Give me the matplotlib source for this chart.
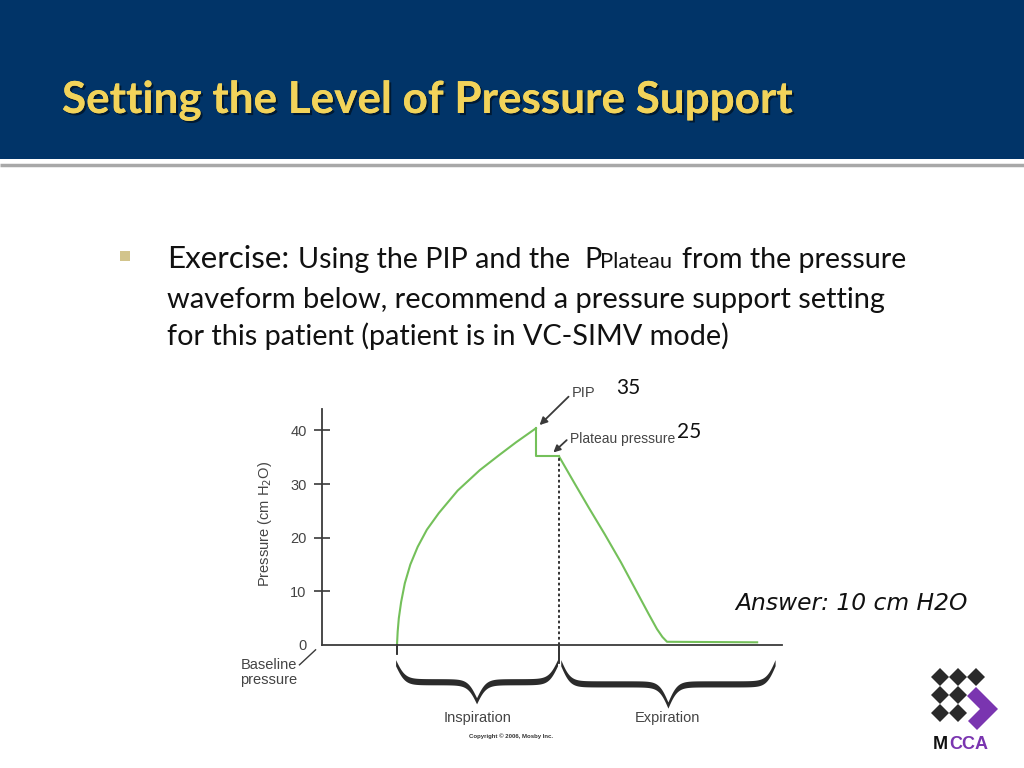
import numpy as np
import matplotlib
matplotlib.use('Agg')
import matplotlib.pyplot as plt
from matplotlib.patches import Rectangle, Polygon
import matplotlib.patheffects as pe

# waveform data (time in arbitrary units, pressure in cm H2O)
t_insp = [16.3, 16.45, 16.7, 17.2, 18.0, 19.2, 20.8, 22.8, 25.4, 29.5, 34.3, 38.5, 42.2, 46.5]
p_insp = [0, 2.5, 5, 8, 11.5, 15, 18.3, 21.5, 24.6, 28.8, 32.6, 35.4, 37.8, 40.4]
t_plateau = [46.5, 46.5, 51.5]
p_plateau = [40.4, 35.2, 35.2]
t_exp = [51.5, 55.0, 58.0, 61.5, 65.0, 68.0, 71.0, 72.8, 74.0, 75.0, 94.6]
p_exp = [35.2, 30.0, 25.6, 20.6, 15.4, 10.6, 5.8, 3.0, 1.5, 0.6, 0.5]

y_ticks = [0, 10, 20, 30, 40]
insp_start, insp_end, exp_end = 16.3, 51.5, 98.5
pip_value, plateau_value = "35", "25"

NAVY = '#013468'
GOLD = '#f2d35a'
GREEN = '#74c05a'
INK = '#3a3a3a'
PURPLE = '#7a35b0'

fig = plt.figure(figsize=(10.24, 7.68), dpi=100)

# slide background in pixel coordinates
bg = fig.add_axes([0, 0, 1, 1])
bg.set_xlim(0, 1024)
bg.set_ylim(768, 0)
bg.axis('off')

bg.add_patch(Rectangle((0, 0), 1024, 159, color=NAVY, lw=0))
bg.plot([0, 1024], [164.5, 164.5], color='#a8a8a8', lw=2.5, solid_capstyle='butt')

bg.text(62, 113, "Setting the Level of Pressure Support", fontsize=31.7, family='Lato',
        weight='bold', color=GOLD, va='baseline',
        path_effects=[pe.withSimplePatchShadow(offset=(1.5, -1.5), shadow_rgbFace='#000000', alpha=0.5),
                      pe.Normal()])

# bullet text
bg.add_patch(Rectangle((120, 251), 10, 10, color='#d2c48c', lw=0))
body = dict(family='Lato', color='#111111', va='baseline')
bg.text(167, 268, "Exercise:", fontsize=22.6, **body)
bg.text(298, 268, "Using the PIP and the", fontsize=20.6, **body)
bg.text(584, 268, "P", fontsize=20.6, **body)
bg.text(600, 268, "Plateau", fontsize=15.8, **body)
bg.text(682, 268, "from the pressure", fontsize=20.6, **body)
bg.text(167, 308, "waveform below, recommend a pressure support setting", fontsize=20.9, **body)
bg.text(167, 345, "for this patient (patient is in VC-SIMV mode)", fontsize=20.8, **body)

bg.text(616, 394, pip_value, fontsize=15, family='Lato', color='#111111', va='baseline')
bg.text(677, 438, plateau_value, fontsize=15, family='Lato', color='#111111', va='baseline')

bg.text(735, 610, "Answer: 10 cm H2O", fontsize=16.8, family='DejaVu Sans', style='italic',
        color='#111111', va='baseline')

# MCCA logo
for cx, cy in [(940, 677), (958, 677), (976, 677), (940, 695), (958, 695), (940, 713), (958, 713)]:
    bg.add_patch(Polygon([(cx, cy - 9), (cx + 9, cy), (cx, cy + 9), (cx - 9, cy)],
                         closed=True, color='#2a2a2a', lw=0))
bg.add_patch(Polygon([(967, 696), (976, 687), (998, 709), (977, 730), (968, 721), (980, 709)],
                     closed=True, color=PURPLE, lw=0))
bg.text(933, 749, "M", fontsize=13, family='Liberation Sans', weight='bold', color='#111111', va='baseline')
bg.text(949, 749, "CCA", fontsize=13, family='Liberation Sans', weight='bold', color=PURPLE, va='baseline')

# pressure waveform chart
ax = fig.add_axes([322 / 1024, 1 - 645 / 768, 460 / 1024, 236 / 768])
ax.patch.set_alpha(0)
ax.set_xlim(0, 100)
ax.set_ylim(0, 44)
for side in ['top', 'right']:
    ax.spines[side].set_visible(False)
for side in ['left', 'bottom']:
    ax.spines[side].set_color(INK)
    ax.spines[side].set_linewidth(1.3)
ax.set_xticks([])
ax.set_yticks(y_ticks)
ax.tick_params(axis='y', direction='inout', length=12, width=1.2, color=INK,
               labelsize=10.5, labelcolor='#444444', pad=5)
for lab in ax.get_yticklabels():
    lab.set_family('Liberation Sans')
ax.yaxis.get_major_ticks()[0].tick1line.set_visible(False)

ax.plot(t_insp, p_insp, color=GREEN, lw=1.5)
ax.plot(t_plateau, p_plateau, color=GREEN, lw=1.5)
ax.plot(t_exp, p_exp, color=GREEN, lw=1.5)

ax.plot([insp_end, insp_end], [0, p_plateau[-1]], color='#222222', lw=1.3,
        linestyle=(0, (1.5, 1.5)))
ax.plot([insp_end, insp_end], [0, -3.3], color='#222222', lw=1.3, clip_on=False)
ax.plot([insp_start, insp_start], [0, -1.6], color='#222222', lw=1.3, clip_on=False)

lab_font = dict(family='Liberation Sans', color='#444444')
ax.annotate('', xy=(47.3, 41.0), xytext=(53.6, 46.3), annotation_clip=False,
            arrowprops=dict(arrowstyle='-|>', color=INK, lw=1.3, mutation_scale=11,
                            shrinkA=0, shrinkB=0))
ax.text(54.3, 47.0, "PIP", va='center', ha='left', fontsize=10.5, **lab_font)
ax.annotate('', xy=(50.3, 35.9), xytext=(53.2, 38.2), annotation_clip=False,
            arrowprops=dict(arrowstyle='-|>', color=INK, lw=1.3, mutation_scale=10,
                            shrinkA=0, shrinkB=0))
ax.text(54.0, 38.4, "Plateau pressure", va='center', ha='left', fontsize=10, **lab_font)

ax.plot([-4.9, -1.4], [-3.7, -0.9], color=INK, lw=1.0, clip_on=False)
ax.text(-11.6, -5.1, "Baseline\npressure", ha='center', va='center', linespacing=1.05,
        multialignment='center', fontsize=10.5, **lab_font)

ax.text(-12.3, 22.5, "Pressure (cm H$_2$O)", rotation=90, ha='center', va='center',
        fontsize=10.5, **lab_font)


def draw_brace(ax, x0, x1, y_top, y_tip, thick=1.15):
    half = (x1 - x0) / 2
    k = 1.0
    u = np.linspace(0, half, 300)
    g = 1 / (1 + np.exp(-u / k)) + 1 / (1 + np.exp(-(u - half) / k)) - 0.5
    g = (g - g[0]) / (g[-1] - g[0])
    y_half = y_top + g * (y_tip - y_top)
    xs = np.concatenate([x0 + u, x1 - u[::-1]])
    ys = np.concatenate([y_half, y_half[::-1]])
    ax.fill_between(xs, ys - thick / 2, ys + thick / 2, color='#2b2b2b', lw=0, clip_on=False)


draw_brace(ax, insp_start - 0.3, insp_end - 0.3, -3.3, -10.4)
draw_brace(ax, insp_end + 0.4, exp_end, -3.3, -11.2)

ax.text((insp_start + insp_end) / 2, -13.6, "Inspiration", ha='center', va='center',
        fontsize=10.5, **lab_font)
ax.text((insp_end + exp_end) / 2, -13.6, "Expiration", ha='center', va='center',
        fontsize=10.5, **lab_font)
ax.text(41.0, -17.0, "Copyright \u00a9 2006, Mosby Inc.", ha='center', va='center',
        family='Liberation Sans', fontsize=4.3, weight='bold', color='#333333')

fig.savefig('out.png', dpi=100)
